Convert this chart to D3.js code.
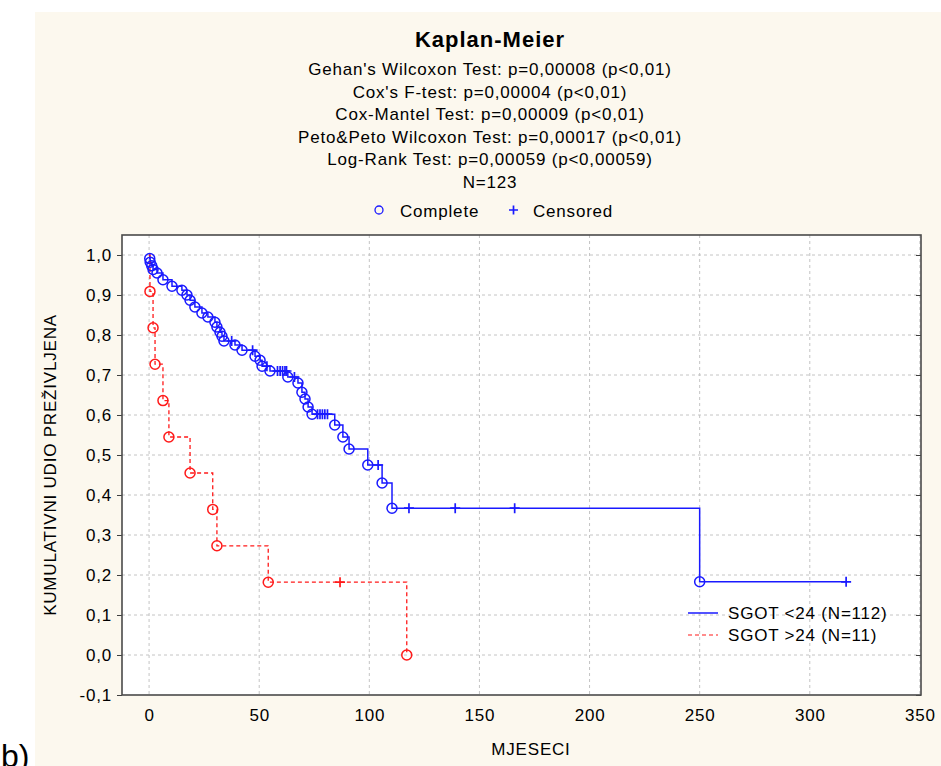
<!DOCTYPE html>
<html>
<head>
<meta charset="utf-8">
<script src="https://cdn.jsdelivr.net/npm/d3@7"></script>
<style>
  body { margin: 0; background: #fff; }
  text { font-family: "Liberation Sans", Arial, sans-serif; fill: #000; }
</style>
</head>
<body>
<svg id="chart" width="941" height="766"></svg>
<script>
// step points (time, cumulative survival)
var lowTimes = [0.3, 0.5, 1.2, 1.8, 3.6, 6.3, 10.4, 14.9, 17.2, 18.6, 20.8, 24, 26.7, 29.9, 30.8, 32.2, 33.1, 34,
  39, 42.2, 48.1, 50.4, 51.3, 54.9, 63, 67.6, 69.4, 70.8, 72.2, 74, 84.3, 88, 90.8, 99.3, 105.8, 110.3, 250];
var lowSurv = [0.991, 0.982, 0.973, 0.964, 0.955, 0.938, 0.922, 0.912, 0.900, 0.887, 0.870, 0.855, 0.845, 0.832, 0.820, 0.807, 0.797, 0.785,
  0.775, 0.762, 0.747, 0.737, 0.722, 0.710, 0.695, 0.680, 0.657, 0.640, 0.620, 0.602, 0.575, 0.545, 0.515, 0.475, 0.430, 0.367, 0.183];
var lowCensored = [37.5, 47, 53.5, 58.3, 59.5, 60.6, 61.7, 62.4, 66, 76.5, 77.6, 78.7, 79.8, 81, 104, 118, 139, 166, 316.5];

var highTimes = [0.4, 1.8, 2.7, 6.3, 9.0, 18.6, 28.9, 30.8, 54.1, 117];
var highSurv = [0.909, 0.818, 0.727, 0.636, 0.545, 0.455, 0.364, 0.273, 0.182, 0];
var highCensored = [86.7];

var xTicks = [0, 50, 100, 150, 200, 250, 300, 350];
var yTicks = [-0.1, 0, 0.1, 0.2, 0.3, 0.4, 0.5, 0.6, 0.7, 0.8, 0.9, 1.0];

var subtitle = [
  "Gehan's Wilcoxon Test: p=0,00008 (p<0,01)",
  "Cox's F-test: p=0,00004 (p<0,01)",
  "Cox-Mantel Test: p=0,00009 (p<0,01)",
  "Peto&Peto Wilcoxon Test: p=0,00017 (p<0,01)",
  "Log-Rank Test: p=0,00059 (p<0,00059)",
  "N=123"
];

var blue = "#1a1aff", red = "#ff1a1a";
var fs = 17, ls = 0.8;

var svg = d3.select("#chart");
var pL = 122, pR = 921, pT = 235, pB = 695;

svg.append("rect").attr("x", 35).attr("y", 12).attr("width", 906).attr("height", 754).attr("fill", "#fcf8ee");
svg.append("rect").attr("x", pL).attr("y", pT).attr("width", pR - pL).attr("height", pB - pT).attr("fill", "#fff");

var x = d3.scaleLinear().domain([-12.3, 350.5]).range([pL, pR]);
var y = d3.scaleLinear().domain([-0.1, 1.05]).range([pB, pT]);

var fmt = function (d) { return d3.format(".1f")(d).replace(".", ",").replace("\u2212", "-"); };

// grid
svg.append("g").selectAll("line").data(xTicks).enter().append("line")
  .attr("x1", d => x(d)).attr("x2", d => x(d)).attr("y1", pT).attr("y2", pB)
  .attr("stroke", "#c4c4c4").attr("stroke-dasharray", "3,3");
svg.append("g").selectAll("line").data(yTicks.slice(1)).enter().append("line")
  .attr("x1", pL).attr("x2", pR).attr("y1", d => y(d)).attr("y2", d => y(d))
  .attr("stroke", "#c4c4c4").attr("stroke-dasharray", "3,3");

// axes
var yAxis = svg.append("g").attr("transform", "translate(" + pL + ",0)")
  .call(d3.axisLeft(y).tickValues(yTicks).tickFormat(fmt).tickSize(5).tickPadding(5));
var yAxisR = svg.append("g").attr("transform", "translate(" + pR + ",0)")
  .call(d3.axisLeft(y).tickValues(yTicks).tickFormat("").tickSize(5));
var xAxis = svg.append("g").attr("transform", "translate(0," + pB + ")")
  .call(d3.axisBottom(x).tickValues(xTicks).tickSize(0).tickPadding(14));
[yAxis, yAxisR, xAxis].forEach(function (g) {
  g.select(".domain").remove();
  g.selectAll("line").attr("stroke", "#404040");
  g.selectAll("text").attr("font-size", fs).attr("letter-spacing", ls)
    .attr("font-family", "Liberation Sans, Arial, sans-serif");
});

svg.append("rect").attr("x", pL).attr("y", pT).attr("width", pR - pL).attr("height", pB - pT)
  .attr("fill", "none").attr("stroke", "#4a4a4a").attr("stroke-width", 1.6);

// curves
function stepLine(times, surv, end) {
  var pts = [[0, 1]];
  times.forEach(function (t, i) {
    pts.push([t, i === 0 ? 1 : surv[i - 1]]);
    pts.push([t, surv[i]]);
  });
  if (end != null) pts.push([end, surv[surv.length - 1]]);
  return pts;
}
function survAt(times, surv, t) {
  var i = d3.bisectRight(times, t);
  return i === 0 ? 1 : surv[i - 1];
}
var line = d3.line().x(d => x(d[0])).y(d => y(d[1]));

var plot = svg.append("g");
plot.append("path").datum(stepLine(lowTimes, lowSurv, 316.5)).attr("d", line)
  .attr("fill", "none").attr("stroke", blue).attr("stroke-width", 1.5);
plot.append("path").datum(stepLine(highTimes, highSurv, null)).attr("d", line)
  .attr("fill", "none").attr("stroke", red).attr("stroke-width", 1.3).attr("stroke-dasharray", "4,3");

function marks(times, surv, cens, color) {
  plot.append("g").selectAll("circle").data(times).enter().append("circle")
    .attr("cx", d => x(d)).attr("cy", (d, i) => y(surv[i])).attr("r", 5)
    .attr("fill", "none").attr("stroke", color).attr("stroke-width", 1.5);
  plot.append("g").selectAll("path").data(cens).enter().append("path")
    .attr("d", function (d) {
      var cx = x(d), cy = y(survAt(times, surv, d));
      return "M" + (cx - 5) + "," + cy + "H" + (cx + 5) + "M" + cx + "," + (cy - 5) + "V" + (cy + 5);
    })
    .attr("stroke", color).attr("stroke-width", 1.7);
}
marks(lowTimes, lowSurv, lowCensored, blue);
marks(highTimes, highSurv, highCensored, red);

// titles
svg.append("text").attr("x", 490).attr("y", 47).attr("text-anchor", "middle")
  .attr("font-size", 22).attr("letter-spacing", 1).attr("font-weight", "bold").text("Kaplan-Meier");
svg.selectAll(".sub").data(subtitle).enter().append("text").attr("class", "sub")
  .attr("x", 490).attr("y", (d, i) => 75 + i * 22.5).attr("text-anchor", "middle")
  .attr("font-size", fs).attr("letter-spacing", ls).text(d => d);

// top legend
svg.append("circle").attr("cx", 379).attr("cy", 210).attr("r", 4)
  .attr("fill", "none").attr("stroke", blue).attr("stroke-width", 1.3);
svg.append("text").attr("x", 400).attr("y", 217).attr("font-size", fs).attr("letter-spacing", ls).text("Complete");
svg.append("path").attr("d", "M509,210H518M513.5,205.5V214.5").attr("stroke", blue).attr("stroke-width", 1.7);
svg.append("text").attr("x", 533).attr("y", 217).attr("font-size", fs).attr("letter-spacing", ls).text("Censored");

// series legend
svg.append("line").attr("x1", 688).attr("x2", 718).attr("y1", 613).attr("y2", 613)
  .attr("stroke", blue).attr("stroke-width", 1.5);
svg.append("text").attr("x", 728).attr("y", 619).attr("font-size", fs).attr("letter-spacing", ls).text("SGOT <24 (N=112)");
svg.append("line").attr("x1", 688).attr("x2", 718).attr("y1", 635).attr("y2", 635)
  .attr("stroke", red).attr("stroke-width", 1.2).attr("stroke-dasharray", "4,3");
svg.append("text").attr("x", 728).attr("y", 641).attr("font-size", fs).attr("letter-spacing", ls).text("SGOT >24 (N=11)");

// axis titles
svg.append("text").attr("transform", "translate(56,465) rotate(-90)").attr("text-anchor", "middle")
  .attr("font-size", fs).attr("letter-spacing", ls).text("KUMULATIVNI UDIO PREŽIVLJENA");
svg.append("text").attr("x", 531).attr("y", 755).attr("text-anchor", "middle")
  .attr("font-size", fs).attr("letter-spacing", ls).text("MJESECI");

svg.append("text").attr("x", 1).attr("y", 767).attr("font-size", 32)
  .attr("font-family", "Liberation Serif, Times New Roman, serif").text("b)");
</script>
</body>
</html>
